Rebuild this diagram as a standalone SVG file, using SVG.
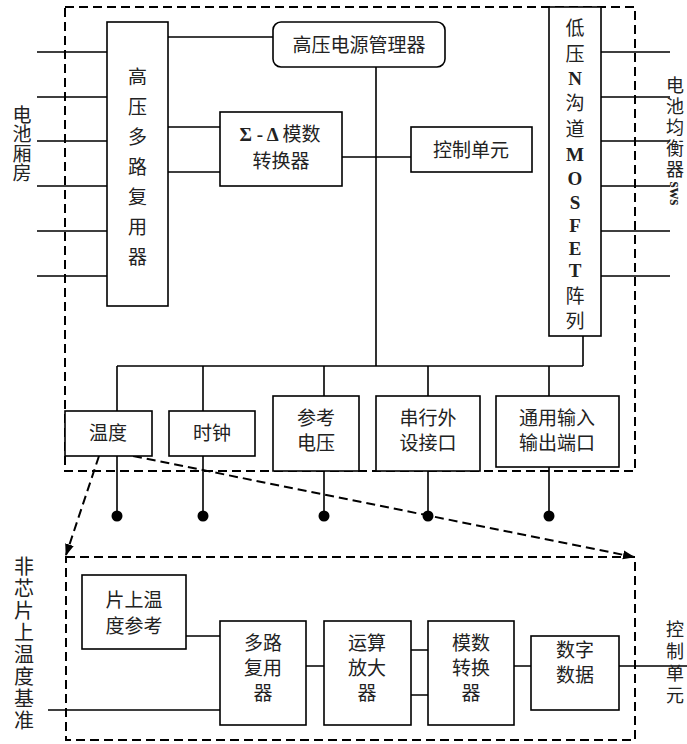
<svg xmlns="http://www.w3.org/2000/svg" width="687" height="744" viewBox="0 0 687 744">
<defs>
<marker id="ah" markerWidth="12" markerHeight="10" refX="11" refY="5" orient="auto" markerUnits="userSpaceOnUse"><path d="M0,0.5 L12,5 L0,9.5 z" fill="#000"/></marker>
</defs>
<style>
.box{fill:#fff;stroke:#000;stroke-width:1.6}
.ln{stroke:#000;stroke-width:1.6;fill:none}
.dash{stroke:#000;stroke-width:2;fill:none;stroke-dasharray:9 5}
.dot{fill:#000}
.t{font-family:"Noto Sans CJK SC","Noto Sans",sans-serif;font-size:19px;fill:#222;text-anchor:middle}
.v{writing-mode:vertical-rl;text-anchor:middle}
.lat{font-family:"Liberation Serif",serif;font-weight:bold}
</style>
<rect width="687" height="744" fill="#fff"/>

<g id="frames">
<rect class="dash" x="65" y="7" width="570" height="464"/>
<rect class="dash" x="66" y="557" width="569" height="183"/>
</g>

<g id="connectors">
<path class="ln" d="M37,52H107M37,97H107M37,141H107M37,186H107M37,231H107M37,276H107"/>
<path class="ln" d="M168,37H273M168,127H220M168,172H220M342,157H411"/>
<path class="ln" d="M376,67V366M583,336V366M117,366H583"/>
<path class="ln" d="M601,52H670M601,97H670M601,141H670M601,186H670M601,231H670M601,276H670"/>
<path class="ln" d="M117,366V411M203,366V411M324,366V396M428,366V396M549,366V396"/>
<path class="ln" d="M117,456V516M203,456V516M324,471V516M428,471V516M549,467V516"/>
<circle class="dot" cx="117" cy="516" r="5.5"/>
<circle class="dot" cx="203" cy="516" r="5.5"/>
<circle class="dot" cx="324" cy="516" r="5.5"/>
<circle class="dot" cx="428" cy="516" r="5.5"/>
<circle class="dot" cx="549" cy="516" r="5.5"/>
<path class="dash" d="M99,456L66,555" marker-end="url(#ah)"/>
<path class="dash" d="M133,456L634,557" marker-end="url(#ah)"/>
<path class="ln" d="M186,636H220M48,710H220M306,666H324M411,650H428M411,695H428M514,666H531M619,666H687"/>
</g>

<g id="n-mux">
<rect class="box" x="107" y="22" width="61" height="284"/>
<text class="t"><tspan x="137.5" y="84">高</tspan><tspan x="137.5" y="114">压</tspan><tspan x="137.5" y="144">多</tspan><tspan x="137.5" y="174">路</tspan><tspan x="137.5" y="204">复</tspan><tspan x="137.5" y="234">用</tspan><tspan x="137.5" y="264">器</tspan></text>
</g>

<g id="n-hvpm">
<rect class="box" x="273" y="22" width="172" height="45" rx="8"/>
<text class="t" x="359" y="52">高压电源管理器</text>
</g>

<g id="n-sdadc">
<rect class="box" x="220" y="112" width="122" height="74"/>
<text class="t" x="280" y="141"><tspan class="lat">Σ - Δ </tspan>模数</text>
<text class="t" x="281" y="168">转换器</text>
</g>

<g id="n-ctrl">
<rect class="box" x="411" y="127" width="121" height="45"/>
<text class="t" x="471" y="157">控制单元</text>
</g>

<g id="n-mosfet">
<rect class="box" x="549" y="7" width="52" height="329"/>
<text class="t"><tspan x="575" y="35">低</tspan><tspan x="575" y="61">压</tspan><tspan class="lat" x="575" y="85">N</tspan><tspan x="575" y="110">沟</tspan><tspan x="575" y="136">道</tspan><tspan class="lat" x="575" y="161">M</tspan><tspan class="lat" x="575" y="185">O</tspan><tspan class="lat" x="575" y="209">S</tspan><tspan class="lat" x="575" y="232">F</tspan><tspan class="lat" x="575" y="255">E</tspan><tspan class="lat" x="575" y="277">T</tspan><tspan x="575" y="303">阵</tspan><tspan x="575" y="328">列</tspan></text>
</g>

<g id="n-temp">
<rect class="box" x="65" y="411" width="87" height="45"/>
<text class="t" x="108" y="440">温度</text>
</g>
<g id="n-clock">
<rect class="box" x="169" y="411" width="86" height="45"/>
<text class="t" x="212" y="440">时钟</text>
</g>
<g id="n-vref">
<rect class="box" x="273" y="396" width="86" height="75"/>
<text class="t" x="316" y="425">参考</text>
<text class="t" x="316" y="450">电压</text>
</g>
<g id="n-spi">
<rect class="box" x="376" y="396" width="104" height="75"/>
<text class="t" x="428" y="425">串行外</text>
<text class="t" x="428" y="450">设接口</text>
</g>
<g id="n-gpio">
<rect class="box" x="496" y="396" width="123" height="71"/>
<text class="t" x="557" y="425">通用输入</text>
<text class="t" x="557" y="450">输出端口</text>
</g>

<g id="n-onchipref">
<rect class="box" x="82" y="575" width="104" height="74"/>
<text class="t" x="134" y="607">片上温</text>
<text class="t" x="134" y="633">度参考</text>
</g>
<g id="n-mux2">
<rect class="box" x="220" y="621" width="86" height="104"/>
<text class="t" x="263" y="650">多路</text>
<text class="t" x="263" y="675">复用</text>
<text class="t" x="263" y="700">器</text>
</g>
<g id="n-opamp">
<rect class="box" x="324" y="621" width="87" height="104"/>
<text class="t" x="367" y="650">运算</text>
<text class="t" x="367" y="675">放大</text>
<text class="t" x="367" y="700">器</text>
</g>
<g id="n-adc">
<rect class="box" x="428" y="621" width="86" height="104"/>
<text class="t" x="471" y="650">模数</text>
<text class="t" x="471" y="675">转换</text>
<text class="t" x="471" y="700">器</text>
</g>
<g id="n-digital">
<rect class="box" x="531" y="636" width="88" height="74"/>
<text class="t" x="575" y="657">数字</text>
<text class="t" x="575" y="682">数据</text>
</g>

<g id="labels">
<text class="t v" x="22" y="144" style="font-size:19px;letter-spacing:0.5px">电池厢房</text>
<text class="t v" x="675" y="141" style="font-size:18px;letter-spacing:3px">电池均衡器<tspan class="lat" style="font-size:16px;letter-spacing:0">sws</tspan></text>
<text class="t v" x="24" y="644" style="font-size:20px;letter-spacing:2px">非芯片上温度基准</text>
<text class="t v" x="675" y="664" style="font-size:18px;letter-spacing:4px">控制单元</text>
</g>
</svg>
